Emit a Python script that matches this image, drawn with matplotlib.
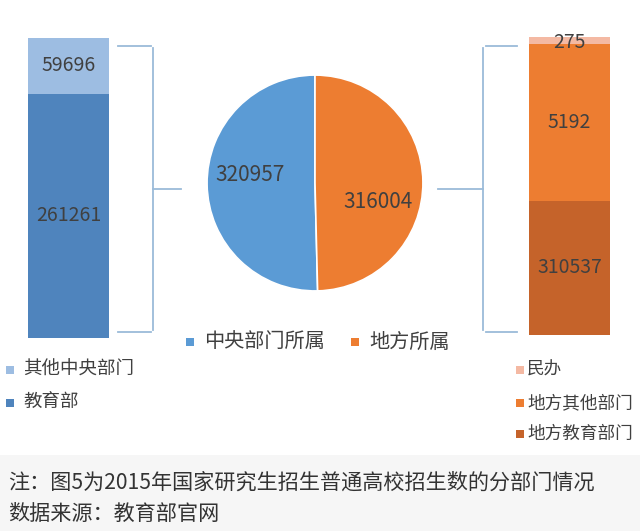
import matplotlib
matplotlib.use("Agg")
import matplotlib.pyplot as plt
from matplotlib.patches import Rectangle
from matplotlib.lines import Line2D

plt.rcParams['font.family'] = ['Noto Sans CJK SC', 'DejaVu Sans']

# ---- data ----
pie_labels = ['中央部门所属', '地方所属']
pie_values = [320957, 316004]
pie_colors = ['#5b9bd5', '#ed7d31']

left_labels = ['教育部', '其他中央部门']          # bottom -> top
left_values = [261261, 59696]
left_colors = ['#4f84bd', '#9dbde2']

right_labels = ['地方教育部门', '地方其他部门', '民办']  # bottom -> top
right_values = [310537, 5192, 275]
# the source draws the right bar with non-proportional segments; shares as drawn
right_drawn = [45.0, 52.5, 2.5]
right_colors = ['#c5632a', '#ed7d31', '#f4b9a3']

note_lines = ['注：图5为2015年国家研究生招生普通高校招生数的分部门情况',
              '数据来源：教育部官网']

W, H = 640, 531
fig = plt.figure(figsize=(6.4, 5.31), dpi=100)
fig.patch.set_facecolor('white')

def fx(x): return x / W
def fy(y): return 1 - y / H
def ax_px(x0, y0, x1, y1):
    return fig.add_axes([fx(x0), fy(y1), fx(x1) - fx(x0), fy(y0) - fy(y1)])

TXT = '#404040'

# footer band
fig.add_artist(Rectangle((0, 0), 1, fy(455), transform=fig.transFigure,
                         facecolor='#f6f6f6', edgecolor='none', zorder=0))

# ---- left stacked bar ----
axl = ax_px(28, 38, 109, 338)
bottom = 0
for v, c in zip(left_values, left_colors):
    axl.bar(0, v, bottom=bottom, width=1, color=c, edgecolor='none')
    axl.text(0, bottom + v / 2, f'{v}', ha='center', va='center', fontsize=14, color=TXT)
    bottom += v
axl.set_xlim(-0.5, 0.5)
axl.set_ylim(0, sum(left_values))
axl.axis('off')

# ---- right stacked bar ----
axr = ax_px(529, 37, 610, 335)
bottom = 0
for v, d, c in zip(right_values, right_drawn, right_colors):
    axr.bar(0, d, bottom=bottom, width=1, color=c, edgecolor='none')
    ty = bottom + d / 2 if d > 5 else bottom + d * 0.3
    axr.text(0, ty, f'{v}', ha='center', va='center', fontsize=14, color=TXT)
    bottom += d
axr.set_xlim(-0.5, 0.5)
axr.set_ylim(0, sum(right_drawn))
axr.axis('off')

# ---- pie ----
axp = ax_px(206, 74, 424, 292)
wedges, _ = axp.pie(pie_values, colors=pie_colors, startangle=90, counterclock=True,
                    wedgeprops=dict(edgecolor='white', linewidth=1.2))
axp.set_xlim(-1.01, 1.01)
axp.set_ylim(-1.01, 1.01)
axp.set_aspect('equal')
axp.text(-0.60, 0.07, f'{pie_values[0]}', ha='center', va='center', fontsize=15, color=TXT)
axp.text(0.58, -0.18, f'{pie_values[1]}', ha='center', va='center', fontsize=15, color=TXT)

# ---- brackets ----
BC = '#9bbbd9'
def seg(x0, y0, x1, y1):
    fig.add_artist(Line2D([fx(x0), fx(x1)], [fy(y0), fy(y1)], transform=fig.transFigure,
                          color=BC, linewidth=1.3))
# left
seg(118, 46, 151, 46); seg(153, 48, 153, 330); seg(118, 332, 151, 332); seg(153, 189, 181, 189)
# right
seg(486, 46, 517, 46); seg(483, 48, 483, 330); seg(486, 332, 517, 332); seg(438, 189, 483, 189)

# ---- legends ----
def leg(x, y, color, label, fs, tx):
    fig.add_artist(Rectangle((fx(x), fy(y + 4)), fx(8), 8 / H, transform=fig.transFigure,
                             facecolor=color, edgecolor='none'))
    fig.text(fx(tx), fy(y), label, ha='left', va='center', fontsize=fs, color=TXT)

leg(186, 342, pie_colors[0], pie_labels[0], 14.5, 204)
leg(351, 342, pie_colors[1], pie_labels[1], 14.5, 369)

leg(6, 370, left_colors[1], left_labels[1], 13.3, 23)
leg(6, 403, left_colors[0], left_labels[0], 13.3, 23)

leg(516, 370, right_colors[2], right_labels[2], 12.7, 527)
leg(516, 403, right_colors[1], right_labels[1], 12.7, 527)
leg(516, 434, right_colors[0], right_labels[0], 12.7, 527)

# ---- notes ----
fig.text(fx(8), fy(483), note_lines[0], ha='left', va='center', fontsize=15.2,
         color='#333333', fontweight='medium')
fig.text(fx(8), fy(514), note_lines[1], ha='left', va='center', fontsize=15.2,
         color='#333333', fontweight='medium')

fig.savefig('out.png', dpi=100)
